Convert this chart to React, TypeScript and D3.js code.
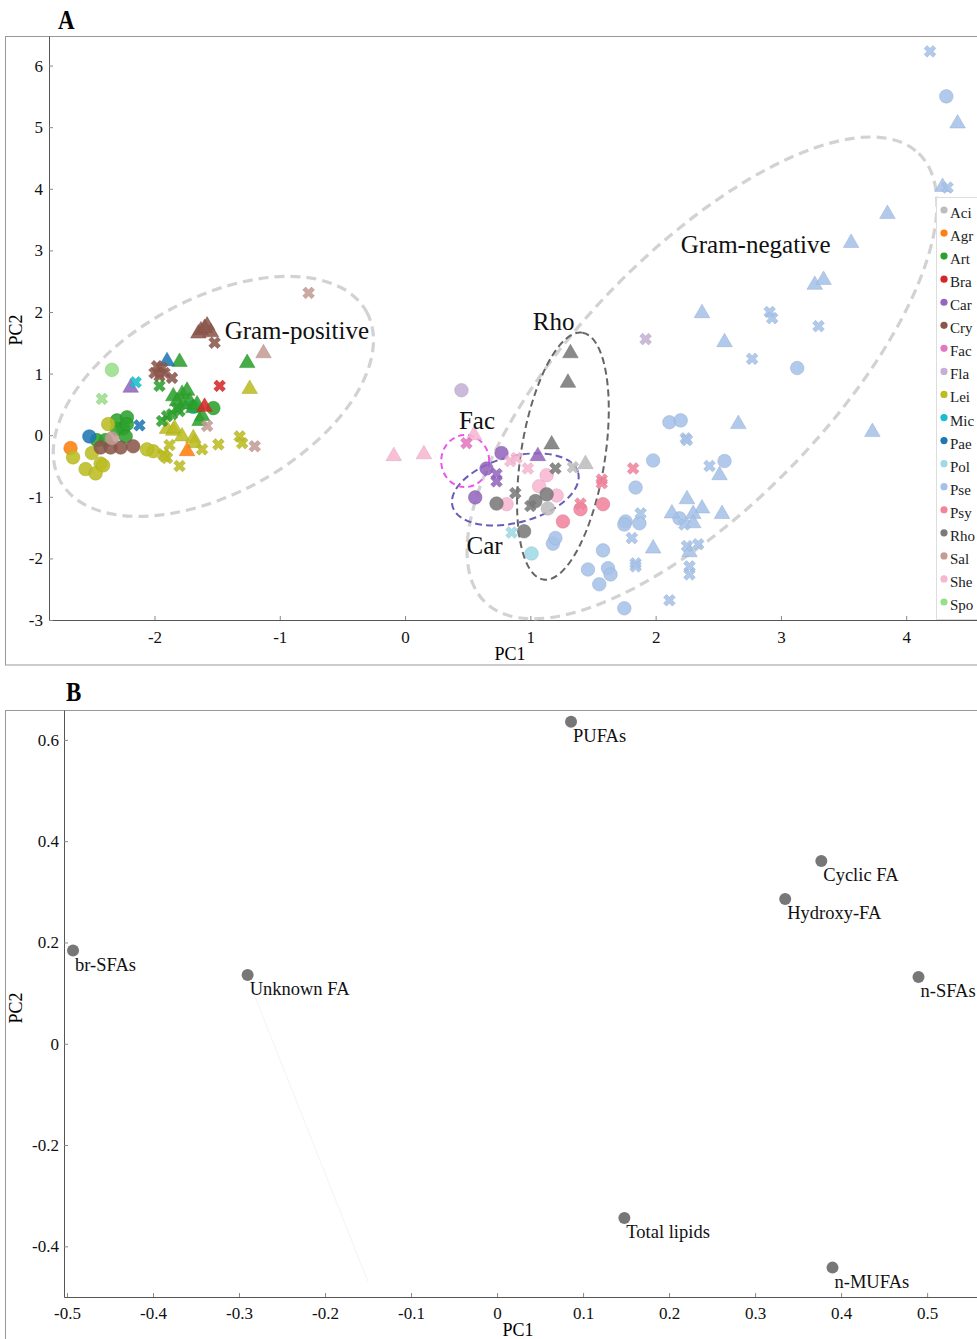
import React, { useEffect, useRef } from "react";
import * as d3 from "d3";

// bacterial genera shown in the legend of panel A
const groups = ["Aci", "Agr", "Art", "Bra", "Car", "Cry", "Fac", "Fla", "Lei", "Mic", "Pae", "Pol", "Pse", "Psy", "Rho", "Sal", "She", "Spo"];
const groupColors = ["#bdbdbd", "#ff7f0e", "#2ca02c", "#d62728", "#9467bd", "#8c564b", "#e377c2", "#c5b0d5", "#bcbd22", "#17becf", "#1f77b4", "#9edae5", "#a6c1e7", "#f0849d", "#7a7a7a", "#c49c94", "#f7b6d2", "#98df8a"];

// [genus, PC1, PC2]
type Pt = [string, number, number];

const circlePoints: Pt[] = [
  ["Spo", -2.34, 1.06],
  ["Art", -2.3, 0.24], ["Art", -2.22, 0.29], ["Art", -2.25, 0.11], ["Art", -2.3, 0.1], ["Art", -2.23, -0.02],
  ["Art", -2.46, -0.08], ["Art", -2.39, -0.08], ["Art", -2.22, 0.18], ["Art", -1.53, 0.44],
  ["Pae", -2.52, -0.02], ["Agr", -2.67, -0.21],
  ["Lei", -2.65, -0.36], ["Lei", -2.37, 0.18], ["Lei", -2.5, -0.29], ["Lei", -2.43, -0.46], ["Lei", -2.55, -0.55],
  ["Lei", -2.47, -0.62], ["Lei", -2.41, -0.49], ["Lei", -2.01, -0.26], ["Lei", -2.06, -0.23],
  ["Cry", -2.43, -0.2], ["Cry", -2.35, -0.2], ["Cry", -2.27, -0.2], ["Cry", -2.17, -0.18],
  ["Sal", -2.34, -0.05], ["Mic", -1.69, 0.46],
  ["Fla", 0.45, 0.73],
  ["Car", 0.77, -0.29], ["Car", 0.65, -0.54], ["Car", 0.56, -1.01],
  ["She", 1.13, -0.65], ["She", 1.07, -0.83], ["She", 1.21, -0.98], ["She", 0.81, -1.12],
  ["Rho", 0.73, -1.11], ["Rho", 1.04, -1.07], ["Rho", 1.13, -0.96], ["Rho", 0.95, -1.56],
  ["Aci", 1.14, -1.19],
  ["Psy", 1.26, -1.4], ["Psy", 1.4, -1.2], ["Psy", 1.58, -1.12],
  ["Pol", 1.01, -1.92],
  ["Pse", 1.18, -1.76], ["Pse", 1.2, -1.67], ["Pse", 1.58, -1.87], ["Pse", 1.46, -2.18], ["Pse", 1.62, -2.16],
  ["Pse", 1.64, -2.26], ["Pse", 1.55, -2.42], ["Pse", 1.76, -1.4], ["Pse", 2.11, 0.21], ["Pse", 2.2, 0.24],
  ["Pse", 1.98, -0.41], ["Pse", 2.55, -0.42], ["Pse", 1.84, -0.85], ["Pse", 2.19, -1.35], ["Pse", 1.75, -1.45],
  ["Pse", 1.87, -1.43], ["Pse", 1.75, -2.81], ["Pse", 4.32, 5.5], ["Pse", 3.13, 1.09],
];

const trianglePoints: Pt[] = [
  ["Car", -2.19, 0.77], ["Car", 1.06, -0.34],
  ["Cry", -1.63, 1.7], ["Cry", -1.58, 1.78], ["Cry", -1.55, 1.67], ["Cry", -1.65, 1.65], ["Cry", -1.6, 1.74],
  ["Sal", -1.13, 1.33],
  ["Art", -1.26, 1.17], ["Art", -1.8, 1.19], ["Art", -1.85, 0.63], ["Art", -1.78, 0.67], ["Art", -1.74, 0.72],
  ["Art", -1.82, 0.55], ["Art", -1.72, 0.55], ["Art", -1.77, 0.5], ["Art", -1.69, 0.44], ["Art", -1.66, 0.5],
  ["Art", -1.62, 0.31], ["Art", -1.64, 0.23],
  ["Pae", -1.9, 1.2], ["Bra", -1.6, 0.46],
  ["Lei", -1.24, 0.75], ["Lei", -1.9, 0.1], ["Lei", -1.85, 0.07], ["Lei", -1.84, 0.11], ["Lei", -1.78, -0.02],
  ["Lei", -1.69, -0.05], ["Lei", -1.68, -0.13],
  ["Agr", -1.74, -0.26],
  ["Rho", 1.32, 1.33], ["Rho", 1.3, 0.85], ["Rho", 1.17, -0.15],
  ["She", -0.09, -0.34], ["She", 0.15, -0.31], ["She", 0.55, 0.0],
  ["Aci", 1.44, -0.47],
  ["Pse", 2.66, 0.18], ["Pse", 2.51, -0.65], ["Pse", 2.25, -1.04], ["Pse", 2.13, -1.27], ["Pse", 2.37, -1.19],
  ["Pse", 2.3, -1.28], ["Pse", 2.53, -1.28], ["Pse", 2.3, -1.43], ["Pse", 1.98, -1.84], ["Pse", 2.27, -1.9],
  ["Pse", 4.41, 5.06], ["Pse", 4.29, 4.03], ["Pse", 3.85, 3.59], ["Pse", 3.56, 3.12], ["Pse", 3.27, 2.44],
  ["Pse", 3.34, 2.52], ["Pse", 2.37, 1.98], ["Pse", 2.55, 1.51], ["Pse", 3.73, 0.05],
];

const crossPoints: Pt[] = [
  ["Spo", -2.42, 0.59], ["Mic", -2.15, 0.86], ["Pae", -2.12, 0.16],
  ["Cry", -1.52, 1.5], ["Cry", -1.98, 1.12], ["Cry", -1.94, 1.09], ["Cry", -1.92, 1.01], ["Cry", -2.0, 1.01],
  ["Cry", -1.86, 0.93], ["Cry", -1.96, 0.96],
  ["Art", -1.96, 0.8], ["Art", -1.9, 0.31], ["Art", -1.94, 0.23], ["Art", -1.86, 0.34], ["Art", -1.8, 0.39], ["Art", -1.82, 0.44],
  ["Bra", -1.48, 0.8],
  ["Sal", -1.58, 0.15], ["Sal", -1.2, -0.18], ["Sal", -0.77, 2.31],
  ["Lei", -1.88, -0.16], ["Lei", -1.93, -0.31], ["Lei", -1.9, -0.37], ["Lei", -1.8, -0.5], ["Lei", -1.62, -0.23],
  ["Lei", -1.49, -0.15], ["Lei", -1.32, -0.02], ["Lei", -1.3, -0.13], ["Lei", -1.92, -0.34],
  ["Fla", 1.92, 1.56], ["Fac", 0.49, -0.13],
  ["Car", 0.73, -0.63], ["Car", 0.73, -0.75],
  ["She", 0.84, -0.42], ["She", 0.89, -0.37], ["She", 0.98, -0.54],
  ["Aci", 1.34, -0.52],
  ["Rho", 1.2, -0.54], ["Rho", 0.88, -0.94], ["Rho", 1.0, -1.15],
  ["Psy", 1.4, -1.11], ["Psy", 1.57, -0.72], ["Psy", 1.57, -0.78], ["Psy", 1.82, -0.54],
  ["Pol", 0.85, -1.58],
  ["Pse", 2.24, -0.05], ["Pse", 2.25, -0.08], ["Pse", 2.43, -0.5], ["Pse", 1.88, -1.27], ["Pse", 2.23, -1.45],
  ["Pse", 1.81, -1.67], ["Pse", 2.34, -1.77], ["Pse", 2.25, -1.8], ["Pse", 1.84, -2.08], ["Pse", 1.84, -2.13],
  ["Pse", 2.27, -2.13], ["Pse", 2.27, -2.26], ["Pse", 2.11, -2.68], ["Pse", 4.19, 6.23], ["Pse", 4.33, 4.02],
  ["Pse", 2.91, 2.0], ["Pse", 2.93, 1.9], ["Pse", 3.3, 1.77], ["Pse", 2.77, 1.24],
];

// annotation labels in panel A
const groupLabels = ["Gram-positive", "Gram-negative", "Rho", "Fac", "Car"];
const groupLabelPC1 = [-1.44, 2.2, 1.02, 0.43, 0.49];
const groupLabelPC2 = [1.56, 2.96, 1.71, 0.1, -1.93];

// panel B loadings
const loadingNames = ["PUFAs", "Cyclic FA", "Hydroxy-FA", "br-SFAs", "Unknown FA", "n-SFAs", "Total lipids", "n-MUFAs"];
const loadingPC1 = [0.086, 0.377, 0.335, -0.493, -0.29, 0.49, 0.148, 0.39];
const loadingPC2 = [0.636, 0.361, 0.286, 0.184, 0.136, 0.132, -0.344, -0.442];

const ticksAX = [-2, -1, 0, 1, 2, 3, 4];
const ticksAY = [-3, -2, -1, 0, 1, 2, 3, 4, 5, 6];
const ticksBX = [-0.5, -0.4, -0.3, -0.2, -0.1, 0, 0.1, 0.2, 0.3, 0.4, 0.5];
const ticksBY = [-0.4, -0.2, 0, 0.2, 0.4, 0.6];

const FONT = "'Liberation Serif', 'Times New Roman', serif";

const App = () => {
  const svgRef = useRef<SVGSVGElement>(null);

  useEffect(() => {
    const svg = d3.select(svgRef.current);
    svg.selectAll("*").remove();

    const color = d3.scaleOrdinal<string, string>().domain(groups).range(groupColors);

    // ---------- Panel A ----------
    const xA = d3.scaleLinear().domain([-2.842, 4.565]).range([49, 977]);
    const yA = d3.scaleLinear().domain([-3, 6.48]).range([620, 36]);

    svg.append("rect").attr("x", 5.5).attr("y", 36.5).attr("width", 990).attr("height", 628.5)
      .attr("fill", "white").attr("stroke", "#999");

    svg.append("text").attr("x", 0).attr("y", 0).attr("transform", "translate(58,29) scale(0.85,1)")
      .attr("font-family", FONT).attr("font-weight", "bold").attr("font-size", 27).text("A");

    const axA = svg.append("g");
    axA.append("g").attr("transform", "translate(0,620)")
      .call(d3.axisBottom(xA).tickValues(ticksAX).tickSize(-4).tickSizeOuter(0).tickPadding(11).tickFormat((d) => String(d)));
    axA.append("g").attr("transform", "translate(49,0)")
      .call(d3.axisLeft(yA).tickValues(ticksAY).tickSize(-4).tickSizeOuter(0).tickPadding(6).tickFormat((d) => String(d)));
    axA.selectAll("text").attr("font-family", FONT).attr("font-size", 17).attr("fill", "#111");
    axA.selectAll("line").attr("stroke", "#888");
    axA.selectAll(".domain").attr("stroke", "#555");

    svg.append("text").attr("x", 510).attr("y", 660).attr("text-anchor", "middle")
      .attr("font-family", FONT).attr("font-size", 18).text("PC1");
    svg.append("text").attr("transform", "translate(22,330) rotate(-90)").attr("text-anchor", "middle")
      .attr("font-family", FONT).attr("font-size", 18).text("PC2");

    // dashed group ellipses
    const ellipses = [
      { cx: -1.53, cy: 0.63, rx: 175, ry: 97, rot: -29, stroke: "#d2d2d2", w: 3.2, dash: "10 6" },
      { cx: 2.37, cy: 0.93, rx: 312, ry: 126, rot: -46, stroke: "#d2d2d2", w: 3.2, dash: "10 6" },
      { cx: 1.26, cy: -0.34, rx: 125, ry: 42, rot: -81, stroke: "#666", w: 2, dash: "7 4" },
      { cx: 0.88, cy: -0.88, rx: 65, ry: 33, rot: -15, stroke: "#6a5cb8", w: 2, dash: "7 4" },
      { cx: 0.48, cy: -0.42, rx: 24, ry: 26, rot: 0, stroke: "#ee55ee", w: 2, dash: "6 4" },
    ];
    svg.append("g").selectAll("ellipse").data(ellipses).enter().append("ellipse")
      .attr("cx", 0).attr("cy", 0).attr("rx", (d) => d.rx).attr("ry", (d) => d.ry)
      .attr("transform", (d) => `translate(${xA(d.cx)},${yA(d.cy)}) rotate(${d.rot})`)
      .attr("fill", "none").attr("stroke", (d) => d.stroke).attr("stroke-width", (d) => d.w)
      .attr("stroke-dasharray", (d) => d.dash);

    // points
    const pts = svg.append("g");
    const drawSymbols = (data: Pt[], type: d3.SymbolType, size: number, rot: number) => {
      const path = d3.symbol().type(type).size(size)();
      pts.append("g").selectAll("path").data(data).enter().append("path")
        .attr("d", path)
        .attr("transform", (d) => `translate(${xA(d[1])},${yA(d[2])}) rotate(${rot})`)
        .attr("fill", (d) => color(d[0]))
        .attr("fill-opacity", 0.88)
        .attr("stroke", (d) => d3.color(color(d[0]))!.darker(0.3).toString())
        .attr("stroke-opacity", 0.6)
        .attr("stroke-width", 0.8);
    };
    drawSymbols(circlePoints, d3.symbolCircle, 145, 0);
    drawSymbols(trianglePoints, d3.symbolTriangle, 105, 0);
    drawSymbols(crossPoints, d3.symbolCross, 85, 45);

    svg.append("g").selectAll("text").data(groupLabels).enter().append("text")
      .attr("x", (d, i) => xA(groupLabelPC1[i])).attr("y", (d, i) => yA(groupLabelPC2[i]))
      .attr("font-family", FONT).attr("font-size", 25).attr("fill", "#111").text((d) => d);

    // legend
    const leg = svg.append("g");
    leg.append("rect").attr("x", 936.5).attr("y", 197.5).attr("width", 50).attr("height", 422)
      .attr("fill", "white").attr("fill-opacity", 0.92).attr("stroke", "#ddd");
    const legY = d3.scalePoint().domain(groups).range([213, 605]);
    leg.selectAll("circle").data(groups).enter().append("circle")
      .attr("cx", 944).attr("cy", (d) => legY(d)! - 3).attr("r", 3.6).attr("fill", (d) => color(d));
    leg.selectAll("text").data(groups).enter().append("text")
      .attr("x", 950).attr("y", (d) => legY(d)! + 5)
      .attr("font-family", FONT).attr("font-size", 15).attr("fill", "#222").text((d) => d);

    // ---------- Panel B ----------
    const xB = d3.scaleLinear().domain([-0.5035, 0.558]).range([64, 977]);
    const yB = d3.scaleLinear().domain([-0.5, 0.659]).range([1297, 710]);

    svg.append("rect").attr("x", 5.5).attr("y", 710.5).attr("width", 990).attr("height", 660)
      .attr("fill", "white").attr("stroke", "#999");

    svg.append("text").attr("x", 0).attr("y", 0).attr("transform", "translate(66,701) scale(0.85,1)")
      .attr("font-family", FONT).attr("font-weight", "bold").attr("font-size", 27).text("B");

    const fmtB = (d: d3.NumberValue) => (+d === 0 ? "0" : (+d).toFixed(1));
    const axB = svg.append("g");
    axB.append("g").attr("transform", "translate(0,1297)")
      .call(d3.axisBottom(xB).tickValues(ticksBX).tickSize(-4).tickSizeOuter(0).tickPadding(10).tickFormat(fmtB));
    axB.append("g").attr("transform", "translate(64,0)")
      .call(d3.axisLeft(yB).tickValues(ticksBY).tickSize(-4).tickSizeOuter(0).tickPadding(5).tickFormat(fmtB));
    axB.selectAll("text").attr("font-family", FONT).attr("font-size", 17).attr("fill", "#111");
    axB.selectAll("line").attr("stroke", "#888");
    axB.selectAll(".domain").attr("stroke", "#555");

    svg.append("text").attr("x", 518).attr("y", 1336).attr("text-anchor", "middle")
      .attr("font-family", FONT).attr("font-size", 18).text("PC1");
    svg.append("text").attr("transform", "translate(22,1008) rotate(-90)").attr("text-anchor", "middle")
      .attr("font-family", FONT).attr("font-size", 18).text("PC2");

    // faint trace below Unknown FA
    svg.append("line").attr("x1", xB(-0.283)).attr("y1", yB(0.1)).attr("x2", xB(-0.15)).attr("y2", yB(-0.47))
      .attr("stroke", "#f4f4f4").attr("stroke-width", 1);

    const lb = svg.append("g");
    lb.selectAll("circle").data(loadingNames).enter().append("circle")
      .attr("cx", (d, i) => xB(loadingPC1[i])).attr("cy", (d, i) => yB(loadingPC2[i]))
      .attr("r", 6).attr("fill", "#777");
    lb.selectAll("text").data(loadingNames).enter().append("text")
      .attr("x", (d, i) => xB(loadingPC1[i]) + 2).attr("y", (d, i) => yB(loadingPC2[i]) + 20)
      .attr("font-family", FONT).attr("font-size", 18.5).attr("fill", "#111").text((d) => d);
  }, []);

  return (
    <div style={{ position: "absolute", left: 0, top: 0, width: 977, height: 1339, overflow: "hidden", background: "white" }}>
      <svg ref={svgRef} width={977} height={1339}></svg>
    </div>
  );
};

export default App;
